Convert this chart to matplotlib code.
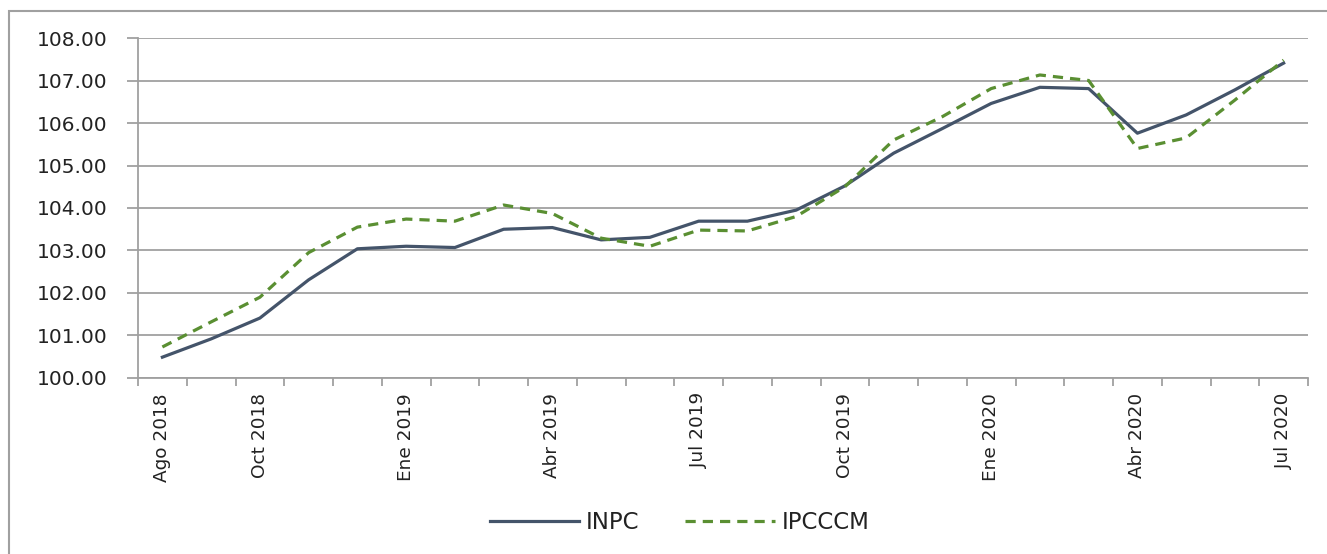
import numpy as np
import matplotlib.pyplot as plt
from matplotlib.patches import Rectangle

# monthly data, Ago 2018 - Jul 2020
meses = ['Ago 2018', 'Sep 2018', 'Oct 2018', 'Nov 2018', 'Dic 2018',
         'Ene 2019', 'Feb 2019', 'Mar 2019', 'Abr 2019', 'May 2019',
         'Jun 2019', 'Jul 2019', 'Ago 2019', 'Sep 2019', 'Oct 2019',
         'Nov 2019', 'Dic 2019', 'Ene 2020', 'Feb 2020', 'Mar 2020',
         'Abr 2020', 'May 2020', 'Jun 2020', 'Jul 2020']
inpc = [100.49, 100.92, 101.41, 102.31, 103.04, 103.10, 103.07, 103.50,
        103.54, 103.25, 103.31, 103.69, 103.69, 103.95, 104.52, 105.29,
        105.87, 106.46, 106.84, 106.81, 105.76, 106.19, 106.78, 107.41]
ipcccm = [100.73, 101.32, 101.90, 102.95, 103.55, 103.74, 103.69, 104.07,
          103.87, 103.29, 103.10, 103.48, 103.46, 103.80, 104.50, 105.60,
          106.15, 106.81, 107.13, 107.00, 105.40, 105.65, 106.54, 107.48]
etiquetas = ['Ago 2018', 'Oct 2018', 'Ene 2019', 'Abr 2019', 'Jul 2019',
             'Oct 2019', 'Ene 2020', 'Abr 2020', 'Jul 2020']

plt.rcParams['font.family'] = ['DejaVu Sans']
gris = '#a0a0a0'

fig = plt.figure(figsize=(13.27, 5.54), dpi=100)
ax = fig.add_axes([0.104, 0.3177, 0.8817, 0.6137])

x = np.arange(len(meses))
ax.plot(x, inpc, color='#44546a', lw=2.3, label='INPC', zorder=3)
ax.plot(x, ipcccm, color='#5a8f32', lw=2.3, ls=(0, (3.2, 2.2)), label='IPCCCM', zorder=3)

ax.set_xlim(-0.5, len(meses) - 0.5)
ax.set_ylim(100, 108)
ax.set_yticks(np.arange(100, 108.5, 1))
ax.set_yticklabels(['%.2f' % v for v in np.arange(100, 108.5, 1)], fontsize=14.5,
                   color='#222222')
ax.yaxis.grid(True, color=gris, lw=1.3)
ax.set_axisbelow(True)

# category boundaries carry the tick marks, labels sit at the centres
ax.set_xticks(np.arange(-0.5, len(meses), 1))
ax.set_xticklabels([])
pos = [meses.index(e) for e in etiquetas]
ax.set_xticks(pos, minor=True)
ax.set_xticklabels(etiquetas, minor=True, rotation=90, fontsize=13.3, color='#222222')
ax.tick_params(axis='x', which='minor', length=0, pad=11)
ax.tick_params(axis='x', which='major', length=6, color=gris, width=1.3, direction='out')
ax.tick_params(axis='y', length=8, color=gris, width=1.3, direction='out', pad=14)

for s in ['top', 'right']:
    ax.spines[s].set_visible(False)
for s in ['left', 'bottom']:
    ax.spines[s].set_color(gris)
    ax.spines[s].set_linewidth(1.3)

leg = fig.legend(loc='center', bbox_to_anchor=(0.512, 0.057), ncol=2, frameon=False,
                 fontsize=16.5, handlelength=3.9, columnspacing=2.0, handletextpad=0.3)
for t in leg.get_texts():
    t.set_color('#222222')

# outer chart border
fig.patches.append(Rectangle((9 / 1327, -0.1), 1.2, 1 - 11 / 554 + 0.1,
                             transform=fig.transFigure, fill=False,
                             edgecolor=gris, lw=1.5))

fig.savefig('out.png', dpi=100)
